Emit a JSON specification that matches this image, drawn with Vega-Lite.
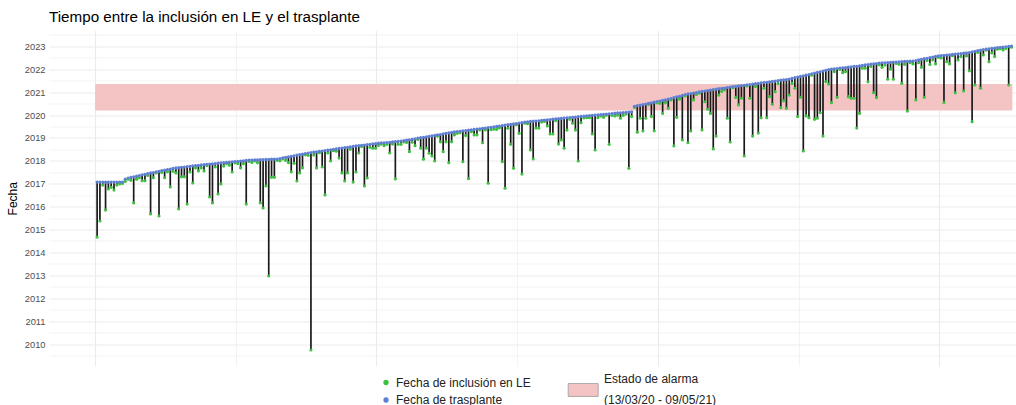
{
"$schema": "https://vega.github.io/schema/vega-lite/v6.json",
"width": 967,
"height": 335.5,
"autosize": {"type": "none"},
"padding": {"left": 49, "top": 30.5, "right": 0, "bottom": 39},
"background": "white",
"title": {"text": "Tiempo entre la inclusión en LE y el trasplante", "anchor": "start", "frame": "group", "fontSize": 15.2, "fontWeight": "normal", "font": "Liberation Sans", "color": "black", "baseline": "alphabetic", "offset": 8, "dy": 15},
"config": {"view": {"stroke": null}, "font": "Liberation Sans"},
"resolve": {"axis": {"x": "independent", "y": "independent"}},
"datasets": {
"alarma": [{"x1": 0.3, "x2": 326.3, "y1": 2020.195, "y2": 2021.353, "k": "alarma", "k2": "t1"}],
"pac": [
{"i":1,"a":2014.67,"b":2017.07},{"i":2,"a":2015.37,"b":2017.07},{"i":3,"a":2016.94,"b":2017.07},{"i":4,"a":2015.85,"b":2017.07},{"i":5,"a":2016.77,"b":2017.07},
{"i":6,"a":2016.84,"b":2017.07},{"i":7,"a":2016.72,"b":2017.07},{"i":8,"a":2016.94,"b":2017.07},{"i":9,"a":2016.99,"b":2017.07},{"i":10,"a":2017.01,"b":2017.07},
{"i":11,"a":2017.10,"b":2017.20},{"i":12,"a":2017.20,"b":2017.25},{"i":13,"a":2017.15,"b":2017.28},{"i":14,"a":2016.16,"b":2017.30},{"i":15,"a":2017.19,"b":2017.33},
{"i":16,"a":2017.26,"b":2017.36},{"i":17,"a":2017.13,"b":2017.39},{"i":18,"a":2017.13,"b":2017.41},{"i":19,"a":2017.36,"b":2017.44},{"i":20,"a":2015.68,"b":2017.47},
{"i":21,"a":2017.26,"b":2017.49},{"i":22,"a":2017.47,"b":2017.52},{"i":23,"a":2015.59,"b":2017.54},{"i":24,"a":2017.49,"b":2017.57},{"i":25,"a":2017.26,"b":2017.59},
{"i":26,"a":2017.52,"b":2017.62},{"i":27,"a":2016.86,"b":2017.64},{"i":28,"a":2017.54,"b":2017.67},{"i":29,"a":2017.47,"b":2017.69},{"i":30,"a":2015.90,"b":2017.70},
{"i":31,"a":2017.30,"b":2017.72},{"i":32,"a":2017.30,"b":2017.73},{"i":33,"a":2016.11,"b":2017.75},{"i":34,"a":2017.51,"b":2017.76},{"i":35,"a":2017.03,"b":2017.78},
{"i":36,"a":2017.69,"b":2017.79},{"i":37,"a":2017.56,"b":2017.80},{"i":38,"a":2017.69,"b":2017.82},{"i":39,"a":2017.56,"b":2017.83},{"i":40,"a":2017.79,"b":2017.85},
{"i":41,"a":2016.42,"b":2017.86},{"i":42,"a":2016.16,"b":2017.87},{"i":43,"a":2017.73,"b":2017.88},{"i":44,"a":2016.55,"b":2017.90},{"i":45,"a":2016.99,"b":2017.91},
{"i":46,"a":2017.77,"b":2017.92},{"i":47,"a":2017.88,"b":2017.93},{"i":48,"a":2017.81,"b":2017.94},{"i":49,"a":2017.51,"b":2017.96},{"i":50,"a":2017.91,"b":2017.97},
{"i":51,"a":2017.88,"b":2017.98},{"i":52,"a":2017.69,"b":2017.99},{"i":53,"a":2017.87,"b":2018.00},{"i":54,"a":2016.11,"b":2018.02},{"i":55,"a":2017.97,"b":2018.03},
{"i":56,"a":2017.93,"b":2018.03},{"i":57,"a":2017.99,"b":2018.04},{"i":58,"a":2017.91,"b":2018.04},{"i":59,"a":2016.16,"b":2018.05},{"i":60,"a":2015.94,"b":2018.05},
{"i":61,"a":2016.90,"b":2018.06},{"i":62,"a":2012.97,"b":2018.06},{"i":63,"a":2017.28,"b":2018.07},{"i":64,"a":2017.28,"b":2018.07},{"i":65,"a":2018.02,"b":2018.08},
{"i":66,"a":2018.00,"b":2018.10},{"i":67,"a":2018.08,"b":2018.13},{"i":68,"a":2018.02,"b":2018.15},{"i":69,"a":2017.92,"b":2018.17},{"i":70,"a":2017.52,"b":2018.20},
{"i":71,"a":2017.89,"b":2018.22},{"i":72,"a":2017.12,"b":2018.25},{"i":73,"a":2017.47,"b":2018.27},{"i":74,"a":2017.69,"b":2018.29},{"i":75,"a":2018.26,"b":2018.32},
{"i":76,"a":2018.24,"b":2018.34},{"i":77,"a":2009.74,"b":2018.36},{"i":78,"a":2018.25,"b":2018.38},{"i":79,"a":2017.69,"b":2018.39},{"i":80,"a":2018.35,"b":2018.41},
{"i":81,"a":2017.73,"b":2018.43},{"i":82,"a":2016.51,"b":2018.45},{"i":83,"a":2018.34,"b":2018.47},{"i":84,"a":2017.99,"b":2018.48},{"i":85,"a":2018.44,"b":2018.50},
{"i":86,"a":2018.42,"b":2018.52},{"i":87,"a":2018.12,"b":2018.54},{"i":88,"a":2017.47,"b":2018.56},{"i":89,"a":2017.12,"b":2018.58},{"i":90,"a":2017.47,"b":2018.59},
{"i":91,"a":2018.51,"b":2018.61},{"i":92,"a":2017.07,"b":2018.63},{"i":93,"a":2017.51,"b":2018.65},{"i":94,"a":2018.34,"b":2018.66},{"i":95,"a":2018.62,"b":2018.68},
{"i":96,"a":2016.90,"b":2018.69},{"i":97,"a":2017.25,"b":2018.71},{"i":98,"a":2018.59,"b":2018.72},{"i":99,"a":2018.55,"b":2018.74},{"i":100,"a":2018.55,"b":2018.75},
{"i":101,"a":2018.67,"b":2018.77},{"i":102,"a":2018.73,"b":2018.78},{"i":103,"a":2018.66,"b":2018.79},{"i":104,"a":2018.72,"b":2018.80},{"i":105,"a":2018.34,"b":2018.81},
{"i":106,"a":2018.73,"b":2018.83},{"i":107,"a":2017.21,"b":2018.84},{"i":108,"a":2018.72,"b":2018.85},{"i":109,"a":2018.72,"b":2018.86},{"i":110,"a":2018.82,"b":2018.88},
{"i":111,"a":2018.80,"b":2018.90},{"i":112,"a":2018.40,"b":2018.92},{"i":113,"a":2018.81,"b":2018.94},{"i":114,"a":2018.66,"b":2018.96},{"i":115,"a":2018.93,"b":2018.99},
{"i":116,"a":2018.55,"b":2019.01},{"i":117,"a":2018.07,"b":2019.03},{"i":118,"a":2018.55,"b":2019.05},{"i":119,"a":2018.33,"b":2019.07},{"i":120,"a":2018.21,"b":2019.09},
{"i":121,"a":2017.99,"b":2019.11},{"i":122,"a":2019.08,"b":2019.13},{"i":123,"a":2018.83,"b":2019.15},{"i":124,"a":2018.40,"b":2019.18},{"i":125,"a":2018.83,"b":2019.20},
{"i":126,"a":2017.92,"b":2019.22},{"i":127,"a":2018.83,"b":2019.24},{"i":128,"a":2019.13,"b":2019.26},{"i":129,"a":2019.20,"b":2019.28},{"i":130,"a":2019.23,"b":2019.29},
{"i":131,"a":2017.96,"b":2019.31},{"i":132,"a":2019.10,"b":2019.32},{"i":133,"a":2017.22,"b":2019.34},{"i":134,"a":2019.27,"b":2019.35},{"i":135,"a":2019.13,"b":2019.37},
{"i":136,"a":2019.13,"b":2019.39},{"i":137,"a":2019.35,"b":2019.40},{"i":138,"a":2018.79,"b":2019.42},{"i":139,"a":2019.35,"b":2019.43},{"i":140,"a":2017.02,"b":2019.45},
{"i":141,"a":2019.36,"b":2019.46},{"i":142,"a":2019.38,"b":2019.48},{"i":143,"a":2019.37,"b":2019.50},{"i":144,"a":2019.44,"b":2019.52},{"i":145,"a":2017.96,"b":2019.54},
{"i":146,"a":2016.80,"b":2019.56},{"i":147,"a":2019.42,"b":2019.58},{"i":148,"a":2018.72,"b":2019.59},{"i":149,"a":2017.67,"b":2019.61},{"i":150,"a":2019.57,"b":2019.63},
{"i":151,"a":2019.20,"b":2019.65},{"i":152,"a":2017.42,"b":2019.67},{"i":153,"a":2019.64,"b":2019.69},{"i":154,"a":2019.62,"b":2019.70},{"i":155,"a":2018.47,"b":2019.72},
{"i":156,"a":2018.08,"b":2019.73},{"i":157,"a":2019.43,"b":2019.74},{"i":158,"a":2019.43,"b":2019.75},{"i":159,"a":2019.69,"b":2019.77},{"i":160,"a":2019.72,"b":2019.78},
{"i":161,"a":2019.52,"b":2019.79},{"i":162,"a":2019.17,"b":2019.80},{"i":163,"a":2019.17,"b":2019.82},{"i":164,"a":2019.75,"b":2019.83},{"i":165,"a":2018.73,"b":2019.84},
{"i":166,"a":2018.91,"b":2019.85},{"i":167,"a":2018.55,"b":2019.87},{"i":168,"a":2019.34,"b":2019.88},{"i":169,"a":2019.81,"b":2019.89},{"i":170,"a":2019.64,"b":2019.90},
{"i":171,"a":2019.34,"b":2019.91},{"i":172,"a":2017.99,"b":2019.93},{"i":173,"a":2019.66,"b":2019.94},{"i":174,"a":2019.87,"b":2019.95},{"i":175,"a":2019.88,"b":2019.96},
{"i":176,"a":2019.88,"b":2019.98},{"i":177,"a":2019.17,"b":2019.99},{"i":178,"a":2018.47,"b":2020.00},{"i":179,"a":2019.88,"b":2020.01},{"i":180,"a":2019.96,"b":2020.02},
{"i":181,"a":2019.90,"b":2020.03},{"i":182,"a":2019.99,"b":2020.04},{"i":183,"a":2018.72,"b":2020.05},{"i":184,"a":2019.98,"b":2020.06},{"i":185,"a":2019.96,"b":2020.08},
{"i":186,"a":2019.99,"b":2020.09},{"i":187,"a":2019.86,"b":2020.10},{"i":188,"a":2019.98,"b":2020.11},{"i":189,"a":2020.04,"b":2020.12},{"i":190,"a":2017.67,"b":2020.13},
{"i":191,"a":2019.93,"b":2020.14},{"i":192,"a":2020.33,"b":2020.38},{"i":193,"a":2019.25,"b":2020.41},{"i":194,"a":2019.86,"b":2020.43},{"i":195,"a":2019.30,"b":2020.46},
{"i":196,"a":2019.86,"b":2020.48},{"i":197,"a":2020.46,"b":2020.51},{"i":198,"a":2019.93,"b":2020.53},{"i":199,"a":2019.31,"b":2020.56},{"i":200,"a":2020.53,"b":2020.59},
{"i":201,"a":2020.51,"b":2020.61},{"i":202,"a":2020.07,"b":2020.64},{"i":203,"a":2020.53,"b":2020.66},{"i":204,"a":2020.29,"b":2020.69},{"i":205,"a":2020.66,"b":2020.72},
{"i":206,"a":2018.65,"b":2020.76},{"i":207,"a":2019.90,"b":2020.79},{"i":208,"a":2020.69,"b":2020.82},{"i":209,"a":2018.91,"b":2020.86},{"i":210,"a":2020.83,"b":2020.89},
{"i":211,"a":2018.79,"b":2020.92},{"i":212,"a":2019.30,"b":2020.94},{"i":213,"a":2020.66,"b":2020.96},{"i":214,"a":2020.90,"b":2020.98},{"i":215,"a":2020.95,"b":2021.01},
{"i":216,"a":2019.35,"b":2021.03},{"i":217,"a":2020.58,"b":2021.05},{"i":218,"a":2020.25,"b":2021.07},{"i":219,"a":2020.07,"b":2021.09},{"i":220,"a":2018.52,"b":2021.11},
{"i":221,"a":2019.08,"b":2021.13},{"i":222,"a":2020.87,"b":2021.15},{"i":223,"a":2021.03,"b":2021.16},{"i":224,"a":2021.10,"b":2021.18},{"i":225,"a":2019.86,"b":2021.20},
{"i":226,"a":2018.82,"b":2021.22},{"i":227,"a":2021.19,"b":2021.24},{"i":228,"a":2020.76,"b":2021.25},{"i":229,"a":2020.44,"b":2021.27},{"i":230,"a":2020.73,"b":2021.29},
{"i":231,"a":2018.21,"b":2021.30},{"i":232,"a":2021.27,"b":2021.32},{"i":233,"a":2020.73,"b":2021.33},{"i":234,"a":2019.08,"b":2021.35},{"i":235,"a":2021.24,"b":2021.37},
{"i":236,"a":2019.21,"b":2021.38},{"i":237,"a":2019.88,"b":2021.40},{"i":238,"a":2021.17,"b":2021.42},{"i":239,"a":2019.88,"b":2021.43},{"i":240,"a":2020.80,"b":2021.45},
{"i":241,"a":2020.47,"b":2021.47},{"i":242,"a":2021.02,"b":2021.48},{"i":243,"a":2021.37,"b":2021.50},{"i":244,"a":2020.32,"b":2021.52},{"i":245,"a":2020.62,"b":2021.54},
{"i":246,"a":2020.29,"b":2021.55},{"i":247,"a":2020.87,"b":2021.57},{"i":248,"a":2021.38,"b":2021.60},{"i":249,"a":2021.17,"b":2021.63},{"i":250,"a":2019.93,"b":2021.66},
{"i":251,"a":2020.77,"b":2021.69},{"i":252,"a":2018.43,"b":2021.71},{"i":253,"a":2019.96,"b":2021.74},{"i":254,"a":2019.88,"b":2021.77},{"i":255,"a":2021.74,"b":2021.80},
{"i":256,"a":2019.81,"b":2021.83},{"i":257,"a":2019.86,"b":2021.86},{"i":258,"a":2020.10,"b":2021.89},{"i":259,"a":2019.08,"b":2021.92},{"i":260,"a":2021.45,"b":2021.95},
{"i":261,"a":2021.35,"b":2021.98},{"i":262,"a":2020.54,"b":2022.01},{"i":263,"a":2021.89,"b":2022.02},{"i":264,"a":2020.77,"b":2022.03},{"i":265,"a":2021.99,"b":2022.05},
{"i":266,"a":2021.85,"b":2022.06},{"i":267,"a":2021.89,"b":2022.07},{"i":268,"a":2020.80,"b":2022.09},{"i":269,"a":2020.73,"b":2022.10},{"i":270,"a":2020.73,"b":2022.12},
{"i":271,"a":2019.43,"b":2022.13},{"i":272,"a":2020.07,"b":2022.15},{"i":273,"a":2022.04,"b":2022.17},{"i":274,"a":2022.04,"b":2022.19},{"i":275,"a":2021.45,"b":2022.20},
{"i":276,"a":2022.12,"b":2022.22},{"i":277,"a":2020.97,"b":2022.24},{"i":278,"a":2020.76,"b":2022.25},{"i":279,"a":2022.19,"b":2022.27},{"i":280,"a":2022.08,"b":2022.28},
{"i":281,"a":2022.18,"b":2022.28},{"i":282,"a":2021.56,"b":2022.29},{"i":283,"a":2022.00,"b":2022.30},{"i":284,"a":2021.56,"b":2022.31},{"i":285,"a":2022.25,"b":2022.31},
{"i":286,"a":2022.22,"b":2022.32},{"i":287,"a":2021.38,"b":2022.33},{"i":288,"a":2022.21,"b":2022.34},{"i":289,"a":2020.17,"b":2022.34},{"i":290,"a":2022.29,"b":2022.35},
{"i":291,"a":2022.23,"b":2022.36},{"i":292,"a":2020.66,"b":2022.38},{"i":293,"a":2022.28,"b":2022.41},{"i":294,"a":2022.08,"b":2022.43},{"i":295,"a":2020.77,"b":2022.46},
{"i":296,"a":2022.38,"b":2022.48},{"i":297,"a":2022.21,"b":2022.51},{"i":298,"a":2022.40,"b":2022.53},{"i":299,"a":2022.23,"b":2022.56},{"i":300,"a":2022.52,"b":2022.58},
{"i":301,"a":2022.49,"b":2022.59},{"i":302,"a":2020.55,"b":2022.61},{"i":303,"a":2022.33,"b":2022.62},{"i":304,"a":2022.23,"b":2022.63},{"i":305,"a":2022.59,"b":2022.65},
{"i":306,"a":2020.97,"b":2022.66},{"i":307,"a":2022.40,"b":2022.67},{"i":308,"a":2022.55,"b":2022.68},{"i":309,"a":2021.05,"b":2022.70},{"i":310,"a":2022.58,"b":2022.71},
{"i":311,"a":2021.93,"b":2022.73},{"i":312,"a":2019.71,"b":2022.76},{"i":313,"a":2021.31,"b":2022.78},{"i":314,"a":2022.73,"b":2022.81},{"i":315,"a":2021.17,"b":2022.83},
{"i":316,"a":2022.62,"b":2022.86},{"i":317,"a":2022.83,"b":2022.88},{"i":318,"a":2022.33,"b":2022.89},{"i":319,"a":2022.71,"b":2022.91},{"i":320,"a":2022.55,"b":2022.92},
{"i":321,"a":2022.87,"b":2022.94},{"i":322,"a":2022.90,"b":2022.95},{"i":323,"a":2022.84,"b":2022.97},{"i":324,"a":2022.90,"b":2022.98},{"i":325,"a":2021.31,"b":2023.00},
{"i":326,"a":2022.96,"b":2023.01}
]
},
"layer": [
{
"data": {"name": "alarma"},
"mark": {"type": "rect"},
"encoding": {
"x": {"field": "x1", "type": "quantitative", "title": null, "scale": {"domain": [-16.1, 327.6], "nice": false, "zero": false},
"axis": {"values": [0.3, 100.3, 200.3, 300.3], "labels": false, "ticks": false, "domain": false, "title": null, "grid": true, "gridColor": "#ebebeb", "gridWidth": 1.1}},
"x2": {"field": "x2"},
"y": {"field": "y1", "type": "quantitative", "title": "Fecha", "scale": {"domain": [2009.04, 2023.69], "nice": false, "zero": false},
"axis": {"values": [2010, 2011, 2012, 2013, 2014, 2015, 2016, 2017, 2018, 2019, 2020, 2021, 2022, 2023], "format": "d", "labelOverlap": false, "labelBound": false, "labelFlush": false, "ticks": false, "domain": false, "labelFontSize": 9.3, "labelColor": "#4d4d4d", "labelPadding": 4, "labelFont": "Liberation Sans", "title": "Fecha", "titleFont": "Liberation Sans", "titleFontSize": 12, "titleFontWeight": "normal", "titleColor": "black", "titlePadding": 5, "grid": true, "gridColor": "#ebebeb", "gridWidth": 1.1}},
"y2": {"field": "y2"},
"fill": {"field": "k", "type": "nominal", "scale": {"range": ["#f4c4c4"]},
"legend": {"orient": "none", "legendX": 518.7, "legendY": 344, "title": null, "padding": 0, "labelExpr": "''", "symbolType": "M-1,-0.43H1V0.43H-1Z", "symbolSize": 900, "symbolStrokeColor": "#9a9a9a", "symbolStrokeWidth": 0.8, "symbolOpacity": 1, "labelFontSize": 12, "labelOffset": 0}},
"opacity": {"field": "k2", "type": "nominal", "scale": {"type": "ordinal", "domain": ["t1", "t2"], "range": [1, 1]},
"legend": {"orient": "none", "legendX": 543, "legendY": 342, "title": null, "padding": 0, "labelExpr": "datum.value === 't1' ? 'Estado de alarma' : '(13/03/20 - 09/05/21)'", "symbolType": "circle", "symbolSize": 0.01, "symbolFillColor": "transparent", "symbolStrokeColor": "transparent", "symbolOpacity": 0, "labelFontSize": 12, "labelFont": "Liberation Sans", "labelColor": "#222222", "labelOffset": 0, "rowPadding": 9.5, "labelLimit": 400}}
}
},
{
"data": {"name": "pac"},
"mark": {"type": "rule", "color": "#1a1a1a", "strokeWidth": 1.7},
"encoding": {
"x": {"field": "i", "type": "quantitative", "title": null,
"axis": {"orient": "top", "values": [50.3, 150.3, 250.3], "labels": false, "ticks": false, "domain": false, "title": null, "grid": true, "gridColor": "#ebebeb", "gridWidth": 0.6}},
"y": {"field": "a", "type": "quantitative", "title": null,
"axis": {"orient": "right", "values": [2009.5, 2010.5, 2011.5, 2012.5, 2013.5, 2014.5, 2015.5, 2016.5, 2017.5, 2018.5, 2019.5, 2020.5, 2021.5, 2022.5, 2023.5], "labels": false, "ticks": false, "domain": false, "title": null, "grid": true, "gridColor": "#ebebeb", "gridWidth": 0.6}},
"y2": {"field": "b"}
}
},
{
"data": {"name": "pac"},
"transform": [{"fold": ["a", "b"], "as": ["serie", "fecha"]}],
"mark": {"type": "circle", "size": 10, "opacity": 1},
"encoding": {
"x": {"field": "i", "type": "quantitative", "title": null, "axis": null},
"y": {"field": "fecha", "type": "quantitative", "title": null, "axis": null},
"color": {"field": "serie", "type": "nominal", "scale": {"domain": ["a", "b"], "range": ["#3fbf3f", "#5f7fd3"]},
"legend": {"orient": "none", "legendX": 331, "legendY": 346, "title": null, "padding": 0, "labelExpr": "datum.value === 'a' ? 'Fecha de inclusión en LE' : 'Fecha de trasplante'", "symbolType": "circle", "symbolSize": 28, "symbolOpacity": 1, "symbolStrokeWidth": 0, "labelFontSize": 12, "labelFont": "Liberation Sans", "labelColor": "#222222", "labelOffset": 4, "rowPadding": 5.5, "labelLimit": 400}}
}
}
]
}
